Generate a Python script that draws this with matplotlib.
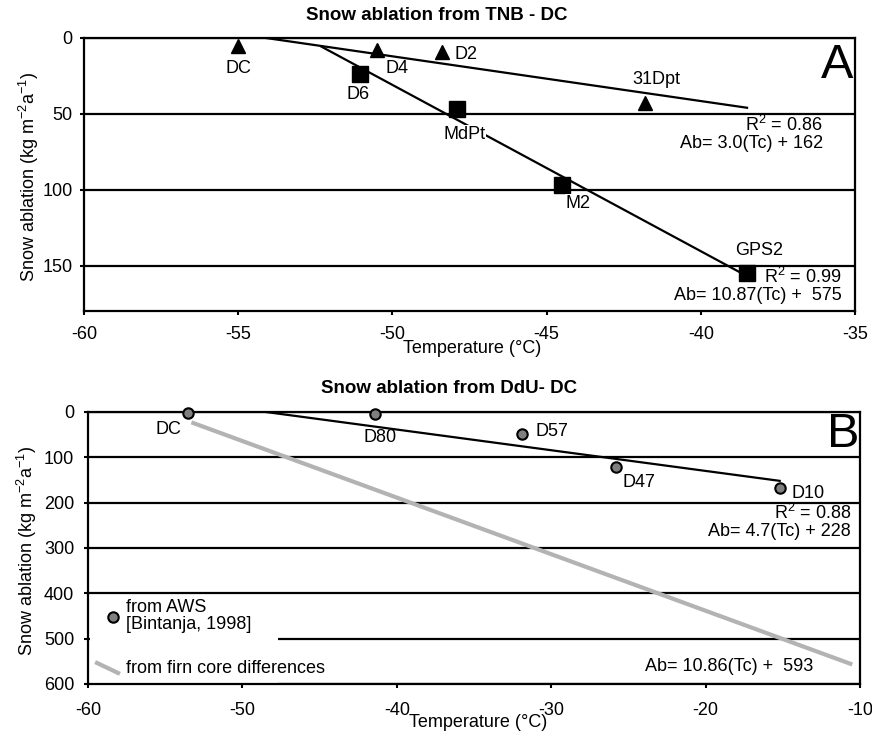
import numpy as np
import matplotlib
matplotlib.use('Agg')
import matplotlib.pyplot as plt
from matplotlib.patches import Rectangle

plt.rcParams['font.family'] = ['Liberation Sans', 'DejaVu Sans']
plt.rcParams['mathtext.fontset'] = 'custom'
plt.rcParams['mathtext.rm'] = 'Liberation Sans'
plt.rcParams['mathtext.it'] = 'Liberation Sans:italic'
plt.rcParams['mathtext.bf'] = 'Liberation Sans:bold'
plt.rcParams['font.size'] = 13
plt.rcParams['axes.unicode_minus'] = False

# panel A - TNB to DC
tri_names = ['DC', 'D4', 'D2', '31Dpt']
tri_temp = [-55.0, -50.5, -48.4, -41.8]
tri_abl = [5, 8, 9, 43]
sq_names = ['D6', 'MdPt', 'M2', 'GPS2']
sq_temp = [-51.05, -47.9, -44.5, -38.5]
sq_abl = [24, 47, 97, 155]
tri_fit_temp = [-54.1, -38.5]
tri_fit_abl = [0, 46]
sq_fit_temp = [-52.3, -38.5]
sq_fit_abl = [5.7, 157]

# panel B - DdU to DC
b_names = ['DC', 'D80', 'D57', 'D47', 'D10']
b_temp = [-53.5, -41.4, -31.9, -25.8, -15.2]
b_abl = [2, 5, 49, 122, 167]
b_fit_temp = [-48.5, -15.2]
b_fit_abl = [0, 152]
firn_temp = [-53.3, -10.5]
firn_abl = [23, 557]

# label offsets in points from the marker
tri_off = [((0, -16.5), 'center'), ((14.5, -13), 'center'), ((9, -2), 'left'), ((8, 17), 'center')]
sq_off = [((-1.5, -14.5), 'center'), ((5, -18), 'center'), ((11.5, -13), 'center'), ((8.6, 16.5), 'center')]
b_off = [((-14, -12), 'center'), ((3.6, -17), 'center'), ((10, 2), 'left'), ((5, -11), 'left'), ((8.6, -4), 'left')]

ylab = 'Snow ablation (kg m$^{-2}$a$^{-1}$)'

fig = plt.figure(figsize=(8.72, 7.36), dpi=100)


def style_axes(ax):
    for s in ax.spines.values():
        s.set_linewidth(1.6)
    ax.tick_params(direction='out', length=3, width=1.5, labelsize=13)
    ax.tick_params(axis='x', pad=8)
    ax.tick_params(axis='y', pad=5)
    ax.set_axisbelow(True)
    ax.grid(axis='y', color='black', linewidth=1.6)
    ax.grid(axis='x', visible=False)


# ---- A
ax1 = fig.add_axes([0.0963, 0.5774, 0.8842, 0.371])
style_axes(ax1)
ax1.set_xlim(-60, -35)
ax1.set_ylim(180, 0)
ax1.set_xticks(np.arange(-60, -34, 5))
ax1.set_yticks([0, 50, 100, 150])

ax1.plot(tri_fit_temp, tri_fit_abl, color='black', lw=1.6, zorder=2)
ax1.plot(sq_fit_temp, sq_fit_abl, color='black', lw=1.6, zorder=2)
ax1.plot(tri_temp, tri_abl, '^', color='black', ms=10, ls='none', zorder=3)
ax1.plot(sq_temp, sq_abl, 's', color='black', ms=11, ls='none', zorder=3)

for n, t, a, (off, ha) in zip(tri_names, tri_temp, tri_abl, tri_off):
    ax1.annotate(n, (t, a), xytext=off, textcoords='offset points', ha=ha, va='center')
for n, t, a, (off, ha) in zip(sq_names, sq_temp, sq_abl, sq_off):
    ax1.annotate(n, (t, a), xytext=off, textcoords='offset points', ha=ha, va='center',
                 bbox=dict(facecolor='white', edgecolor='none', pad=0.5), zorder=4)

ax1.text(0.9585, 0.681, 'R$^2$ = 0.86', transform=ax1.transAxes, ha='right', va='center')
ax1.text(0.9585, 0.615, 'Ab= 3.0(Tc) + 162', transform=ax1.transAxes, ha='right', va='center')
ax1.text(0.983, 0.1245, 'R$^2$ = 0.99', transform=ax1.transAxes, ha='right', va='center')
ax1.text(0.983, 0.0586, 'Ab= 10.87(Tc) +  575', transform=ax1.transAxes, ha='right', va='center')
ax1.text(0.9767, 0.901, 'A', transform=ax1.transAxes, ha='center', va='center', fontsize=35)

ax1.set_xlabel('Temperature (°C)', va='center')
ax1.xaxis.set_label_coords(0.503, -0.1355)
ax1.set_ylabel(ylab, va='center')
ax1.yaxis.set_label_coords(-0.072, 0.49)
fig.text(0.501, 0.9796, 'Snow ablation from TNB - DC', ha='center', va='center',
         fontweight='bold', fontsize=13.5)

# ---- B
ax2 = fig.add_axes([0.1009, 0.0707, 0.8853, 0.3696])
style_axes(ax2)
ax2.set_xlim(-60, -10)
ax2.set_ylim(600, 0)
ax2.set_xticks(np.arange(-60, -9, 10))
ax2.set_yticks(np.arange(0, 601, 100))
ax2.tick_params(axis='x', pad=10)
ax2.tick_params(axis='y', pad=7)

ax2.plot(firn_temp, firn_abl, color='#b3b3b3', lw=3, solid_capstyle='butt', zorder=2)
ax2.plot(b_fit_temp, b_fit_abl, color='black', lw=1.6, zorder=2)
ax2.plot(b_temp, b_abl, 'o', mfc='#7f7f7f', mec='black', mew=1.5, ms=7.5, ls='none',
         zorder=3, clip_on=False)
for n, t, a, (off, ha) in zip(b_names, b_temp, b_abl, b_off):
    ax2.annotate(n, (t, a), xytext=off, textcoords='offset points', ha=ha, va='center')

ax2.text(0.9883, 0.6287, 'R$^2$ = 0.88', transform=ax2.transAxes, ha='right', va='center')
ax2.text(0.9883, 0.5588, 'Ab= 4.7(Tc) + 228', transform=ax2.transAxes, ha='right', va='center')
ax2.text(0.939, 0.0625, 'Ab= 10.86(Tc) +  593', transform=ax2.transAxes, ha='right', va='center')
ax2.text(0.978, 0.9154, 'B', transform=ax2.transAxes, ha='center', va='center', fontsize=35)

# legend box
ax2.add_patch(Rectangle((0.003, 0.004), 0.243, 0.31, transform=ax2.transAxes,
                        facecolor='white', edgecolor='none', zorder=1))
ax2.plot([0.0324], [0.2463], 'o', mfc='#7f7f7f', mec='black', mew=1.5, ms=7.5,
         transform=ax2.transAxes, zorder=3)
ax2.text(0.0492, 0.25, 'from AWS\n[Bintanja, 1998]', transform=ax2.transAxes,
         ha='left', va='center', linespacing=1.0)
ax2.plot([0.0117, 0.0389], [0.0772, 0.0404], color='#b3b3b3', lw=3,
         transform=ax2.transAxes, zorder=3)
ax2.text(0.0492, 0.0551, 'from firn core differences', transform=ax2.transAxes,
         ha='left', va='center')

ax2.set_xlabel('Temperature (°C)', va='center')
ax2.xaxis.set_label_coords(0.505, -0.143)
ax2.set_ylabel(ylab, va='center')
ax2.yaxis.set_label_coords(-0.079, 0.49)
fig.text(0.515, 0.4728, 'Snow ablation from DdU- DC', ha='center', va='center',
         fontweight='bold', fontsize=13.5)

plt.savefig('out.png', dpi=100)
